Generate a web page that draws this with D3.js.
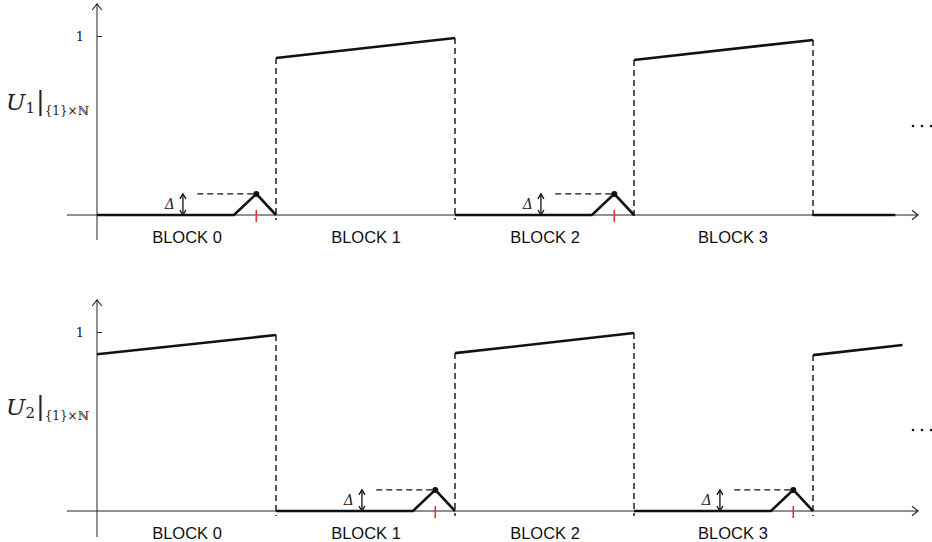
<!DOCTYPE html>
<html>
<head>
<meta charset="utf-8">
<script src="https://cdn.jsdelivr.net/npm/d3@7"></script>
<style>
  body { margin: 0; background: #fff; }
  svg { display: block; }
  .blk text { font-family: "Liberation Sans", Arial, sans-serif; font-size: 16.5px; fill: #111; }
  .serif { font-family: "DejaVu Serif", "Liberation Serif", serif; fill: #222; }
</style>
</head>
<body>
<svg width="932" height="542"></svg>
<script>
// block layout (x in block units)
var blockCenters = [0.5, 1.5, 2.5, 3.55];
var blockLabels = ["BLOCK 0", "BLOCK 1", "BLOCK 2", "BLOCK 3"];

// shape of a "low" block: flat, then a small bump of height delta before the edge
var rampStart = 0.765, peakPos = 0.89, delta = 0.118;
var deltaArrowPos = 0.48, deltaDashFrom = 0.56;

// U1: high blocks (start value, end value, span)
var u1HighBlocks = [1, 3];
var u1HighStart = [0.877, 0.866];
var u1HighEnd = [0.989, 0.978];
var u1HighSpan = [1, 1];
var u1LowBlocks = [0, 2];
var u1TailStart = 4, u1TailEnd = 4.46;

// U2
var u2HighBlocks = [0, 2, 4];
var u2HighStart = [0.876, 0.882, 0.871];
var u2HighEnd = [0.983, 0.994, 0.927];
var u2HighSpan = [1, 1, 0.5];
var u2LowBlocks = [1, 3];

var svg = d3.select("svg");
var xScale = d3.scaleLinear().domain([0, 4]).range([97, 813]);

function arrowHead(g, x, y, dir) {
  // open chevron
  var s = 6;
  var pts = dir === "right" ? [[x - s, y - s * 0.8], [x, y], [x - s, y + s * 0.8]]
          : [[x - s * 0.8, y + s], [x, y], [x + s * 0.8, y + s]];
  g.append("path").attr("d", d3.line()(pts))
    .attr("fill", "none").attr("stroke", "#222").attr("stroke-width", 1.1);
}

function panel(cfg) {
  var yScale = d3.scaleLinear().domain([0, 1]).range([cfg.base, cfg.base - 179]);
  var g = svg.append("g");
  var y0 = yScale(0);

  // axes
  g.append("line").attr("x1", 67).attr("x2", 918).attr("y1", y0).attr("y2", y0)
    .attr("stroke", "#222").attr("stroke-width", 1);
  arrowHead(g, 918, y0, "right");
  g.append("line").attr("x1", xScale(0)).attr("x2", xScale(0))
    .attr("y1", cfg.axisTop).attr("y2", cfg.axisBottom)
    .attr("stroke", "#222").attr("stroke-width", 1);
  arrowHead(g, xScale(0), cfg.axisTop, "up");

  var yAxis = d3.axisLeft(yScale).tickValues([1]).tickFormat(d3.format("d"))
    .tickSize(4).tickPadding(9);
  var ya = g.append("g").attr("transform", `translate(${xScale(0)},0)`).call(yAxis);
  ya.select(".domain").remove();
  ya.selectAll(".tick line").attr("x2", 5).attr("stroke", "#222");
  ya.selectAll(".tick text").attr("class", "serif").style("font-size", "13px").attr("fill", "#222");

  var xAxis = d3.axisBottom(xScale).tickValues(blockCenters)
    .tickFormat((d, i) => blockLabels[i]).tickSize(0).tickPadding(16);
  var xa = g.append("g").attr("class", "blk").attr("transform", `translate(0,${y0})`).call(xAxis);
  xa.select(".domain").remove();
  xa.selectAll("text").attr("fill", "#111").attr("font-family", null).attr("font-size", null);

  // signal segments
  var line = d3.line().x(d => xScale(d[0])).y(d => yScale(d[1]));
  var segs = [];
  cfg.highBlocks.forEach((b, i) => {
    segs.push([[b, cfg.highStart[i]], [b + cfg.highSpan[i], cfg.highEnd[i]]]);
  });
  cfg.lowBlocks.forEach(b => {
    segs.push([[b, 0], [b + rampStart, 0], [b + peakPos, delta], [b + 1, 0]]);
  });
  if (cfg.tail) segs.push([[cfg.tail[0], 0], [cfg.tail[1], 0]]);

  // dashed jumps at block edges where the signal switches
  var jumps = [];
  cfg.highBlocks.forEach((b, i) => {
    if (b > 0) jumps.push([b, cfg.highStart[i]]);
    if (cfg.highSpan[i] === 1) jumps.push([b + 1, cfg.highEnd[i]]);
  });
  g.selectAll("line.jump").data(jumps).enter().append("line")
    .attr("class", "jump")
    .attr("x1", d => xScale(d[0])).attr("x2", d => xScale(d[0]))
    .attr("y1", d => yScale(d[1])).attr("y2", y0 + 5)
    .attr("stroke", "#111").attr("stroke-width", 1.4).attr("stroke-dasharray", "6,4");

  g.selectAll("path.sig").data(segs).enter().append("path")
    .attr("class", "sig").attr("d", line)
    .attr("fill", "none").attr("stroke", "#111").attr("stroke-width", 2.6)
    .attr("stroke-linejoin", "miter");

  // bump annotations
  cfg.lowBlocks.forEach(b => {
    var px = xScale(b + peakPos), py = yScale(delta);
    g.append("circle").attr("cx", px).attr("cy", py).attr("r", 3).attr("fill", "#111");
    g.append("line").attr("x1", px).attr("x2", px).attr("y1", y0 - 5).attr("y2", y0 + 7)
      .attr("stroke", "#e03030").attr("stroke-width", 1.6);
    g.append("line").attr("x1", xScale(b + deltaDashFrom)).attr("x2", px)
      .attr("y1", py).attr("y2", py)
      .attr("stroke", "#111").attr("stroke-width", 1.3).attr("stroke-dasharray", "6,4");
    var ax = xScale(b + deltaArrowPos);
    g.append("line").attr("x1", ax).attr("x2", ax).attr("y1", py + 1).attr("y2", y0 - 1)
      .attr("stroke", "#111").attr("stroke-width", 1.3);
    g.append("path").attr("d", d3.line()([[ax - 3, py + 5], [ax, py], [ax + 3, py + 5]]))
      .attr("fill", "none").attr("stroke", "#111").attr("stroke-width", 1.3);
    g.append("path").attr("d", d3.line()([[ax - 3, y0 - 5], [ax, y0], [ax + 3, y0 - 5]]))
      .attr("fill", "none").attr("stroke", "#111").attr("stroke-width", 1.3);
    g.append("text").attr("class", "serif").attr("x", ax - 8).attr("y", (py + y0) / 2 + 5)
      .attr("text-anchor", "end").style("font-size", "14px").style("font-style", "italic")
      .text("Δ");
  });

  // y label
  var lab = g.append("text").attr("class", "serif").attr("x", 6).attr("y", cfg.labelY)
    .style("font-size", "23px");
  lab.append("tspan").style("font-style", "italic").text("U");
  lab.append("tspan").attr("dy", 3).style("font-size", "15px").text(cfg.idx);
  lab.append("tspan").attr("dy", -3).attr("dx", 1).style("font-size", "26px").text("|");
  lab.append("tspan").attr("dy", 5).style("font-size", "12px").text("{1}×ℕ");

  // ellipsis
  g.selectAll("circle.dot").data([0, 1, 2]).enter().append("circle")
    .attr("class", "dot").attr("cx", d => 913 + d * 9).attr("cy", cfg.dotsY)
    .attr("r", 1.3).attr("fill", "#111");
}

panel({ base: 215, axisTop: 4, axisBottom: 240, labelY: 110, dotsY: 126, idx: "1",
  highBlocks: u1HighBlocks, highStart: u1HighStart, highEnd: u1HighEnd, highSpan: u1HighSpan,
  lowBlocks: u1LowBlocks, tail: [u1TailStart, u1TailEnd] });
panel({ base: 511, axisTop: 300, axisBottom: 537, labelY: 415, dotsY: 430, idx: "2",
  highBlocks: u2HighBlocks, highStart: u2HighStart, highEnd: u2HighEnd, highSpan: u2HighSpan,
  lowBlocks: u2LowBlocks, tail: null });
</script>
</body>
</html>
